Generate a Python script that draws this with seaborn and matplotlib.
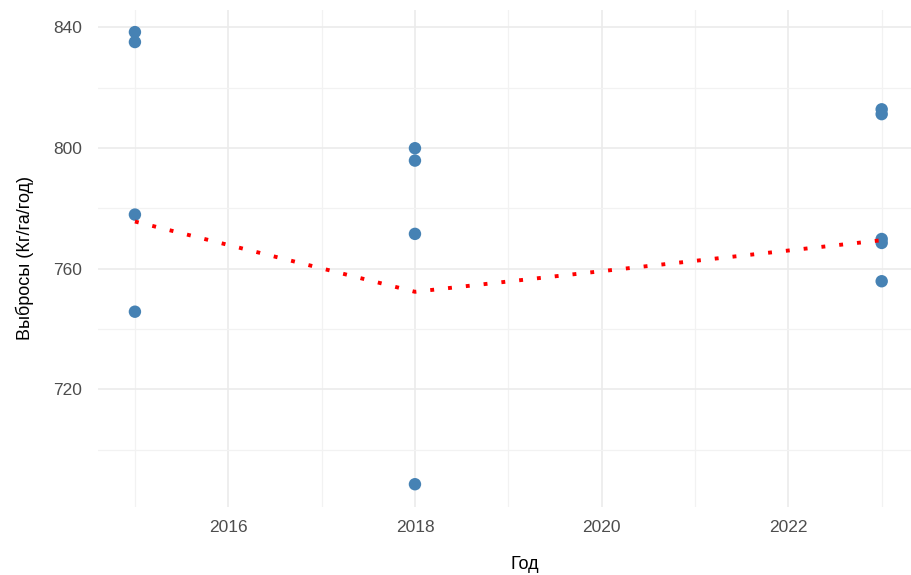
import numpy as np
import pandas as pd
import seaborn as sns
from matplotlib import pyplot as plt
from matplotlib.ticker import MultipleLocator

# point data
years = [2015, 2015, 2015, 2015,
         2018, 2018, 2018, 2018,
         2023, 2023, 2023, 2023, 2023]
emissions = [838.4, 835.1, 777.9, 745.7,
             799.9, 795.8, 771.5, 688.5,
             812.8, 811.2, 769.8, 768.5, 755.8]

# dotted trend line
trend_years = [2015, 2018, 2023]
trend_values = [775.6, 752.3, 769.4]

points = pd.DataFrame({"year": years, "value": emissions})
trend = pd.DataFrame({"year": trend_years, "value": trend_values})


def main():
    sns.set_style("white")
    plt.rcParams["font.family"] = ["Liberation Sans", "DejaVu Sans"]

    fig = plt.figure(figsize=(9.12, 5.75), dpi=100)
    # the panel runs a little past the right edge of the image, as in the original
    ax = fig.add_axes([0.107, 0.118, 0.9007, 0.865])

    sns.lineplot(data=trend, x="year", y="value", ax=ax, color="red",
                 linewidth=2.8, dashes=False, zorder=3)
    ax.lines[0].set_dashes((1, 3.6))
    ax.lines[0].set_dash_capstyle("butt")
    sns.scatterplot(data=points, x="year", y="value", ax=ax, color="steelblue",
                    s=80, edgecolor="none", zorder=2)

    ax.set_xlim(2014.6, 2023.4)
    ax.set_ylim(680.9, 845.8)
    ax.xaxis.set_major_locator(MultipleLocator(2))
    ax.xaxis.set_minor_locator(MultipleLocator(1))
    ax.yaxis.set_major_locator(MultipleLocator(40))
    ax.yaxis.set_minor_locator(MultipleLocator(20))
    ax.grid(which="major", color="#ebebeb", linewidth=1.2)
    ax.grid(which="minor", color="#f2f2f2", linewidth=0.9)
    ax.set_axisbelow(True)
    for s in ax.spines.values():
        s.set_visible(False)
    ax.tick_params(which="both", length=0, labelsize=12.5, labelcolor="#4d4d4d")
    ax.tick_params(axis="y", pad=11)
    ax.tick_params(axis="x", pad=9)

    ax.set_xlabel("Год", fontsize=13, color="black")
    ax.set_ylabel("Выбросы (Кг/га/год)", fontsize=13, color="black", labelpad=14)
    # keep the x title centred on the visible image, not on the clipped panel
    ax.xaxis.set_label_coords((525 - 97.6) / (0.9007 * 912), -0.099)

    fig.savefig("out.png", dpi=100)


if __name__ == "__main__":
    main()
